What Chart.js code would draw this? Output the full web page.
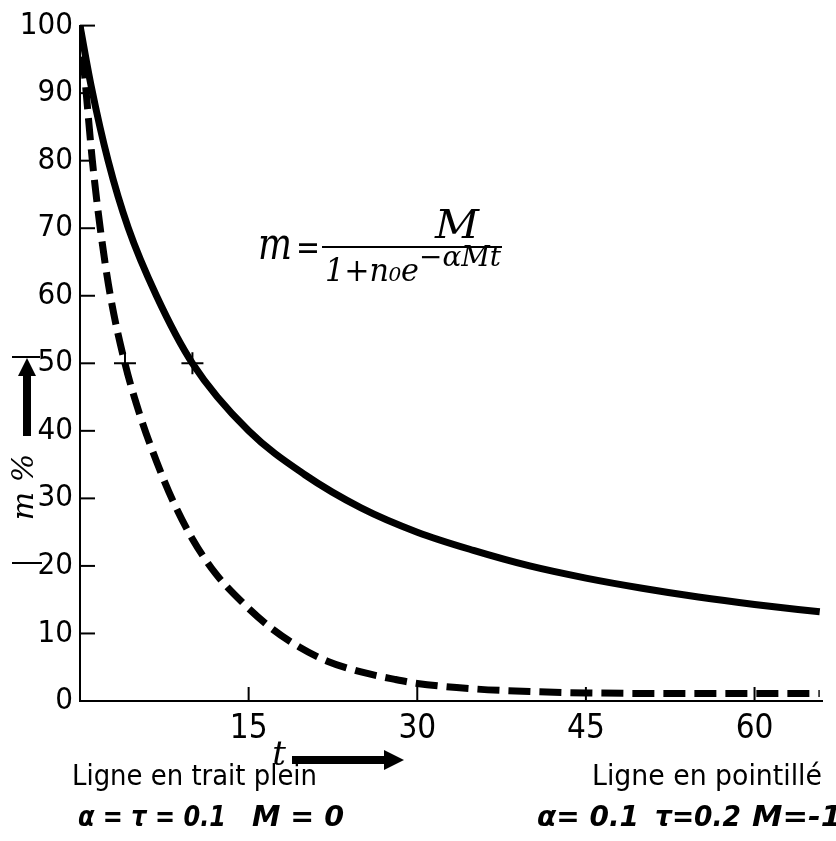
<!DOCTYPE html>
<html>
<head>
<meta charset="utf-8">
<script src="https://cdn.jsdelivr.net/npm/chart.js@4.4.0/dist/chart.umd.min.js"></script>
<style>
  html, body { margin: 0; padding: 0; background: #fff; }
</style>
</head>
<body>
<canvas id="chart" width="836" height="841"></canvas>
<script>
'use strict';
// solid line : alpha = tau = 0.1, M = 0
var tSolid = [0, 1, 2.5, 4.3, 6.8, 10, 15, 20, 25, 30, 35, 40, 45, 50, 55, 60, 65.8];
var mSolid = [100, 91, 80, 70, 60, 50, 40, 33.5, 28.6, 25, 22.3, 20, 18.2, 16.7, 15.4, 14.3, 13.2];
// dashed line : alpha = 0.1, tau = 0.2, M = -1
var tDashed = [0, 0.5, 1.1, 1.8, 2.7, 4, 5.3, 6.8, 8.3, 10, 12, 14.5, 17, 19.5, 22, 25, 28, 30, 35, 40, 45, 55, 65.8];
var mDashed = [100, 91, 80, 70, 60, 50, 42.5, 35.5, 29.5, 24, 19, 14.5, 10.8, 8, 5.9, 4.3, 3.2, 2.6, 1.8, 1.4, 1.2, 1.1, 1.1];
// half value marks (+)
var crossT = [4, 10];
var crossM = [50, 50];
// axis ticks
var xTicks = [15, 30, 45, 60];
var yTicks = [0, 10, 20, 30, 40, 50, 60, 70, 80, 90, 100];

var tickFont = '"Liberation Sans Narrow", "DejaVu Sans Condensed", sans-serif';
var textFont = '"DejaVu Sans Condensed", "Liberation Sans Narrow", sans-serif';
var mathFont = '"DejaVu Serif", "Liberation Serif", serif';

function pairs(xs, ys) {
    var out = [];
    for (var i = 0; i < xs.length; i++) {
        out.push({ x: xs[i], y: ys[i] });
    }
    return out;
}

function line(c, x1, y1, x2, y2) {
    c.beginPath();
    c.moveTo(x1, y1);
    c.lineTo(x2, y2);
    c.stroke();
}

// draw text squeezed/stretched to a given width, left edge at x
function fitText(c, text, x, y, w, font) {
    c.save();
    c.font = font;
    c.textAlign = 'left';
    c.textBaseline = 'middle';
    var s = w / c.measureText(text).width;
    c.translate(x, y);
    c.scale(s, 1);
    c.fillText(text, 0, 0);
    c.restore();
}

// extra drawing : inner ticks, axis titles, formula, notes
var decorations = {
    id: 'decorations',
    afterDraw: function (chart) {
        var c = chart.ctx;
        var xs = chart.scales.x;
        var ys = chart.scales.y;
        var left = chart.chartArea.left;
        var bottom = chart.chartArea.bottom;
        c.save();
        c.strokeStyle = '#000';
        c.fillStyle = '#000';
        c.lineWidth = 2;

        // ticks pointing into the plot
        yTicks.forEach(function (v) {
            if (v === 0) return;
            var py = ys.getPixelForValue(v);
            line(c, left, py, left + 15, py);
        });
        xTicks.forEach(function (v) {
            var px = xs.getPixelForValue(v);
            line(c, px, bottom, px, bottom - 14);
        });

        // y title : arrow + "m %"
        line(c, 12, 357, 40, 357);
        line(c, 12, 563, 42, 563);
        c.lineWidth = 8;
        line(c, 27, 436, 27, 372);
        c.beginPath();
        c.moveTo(27, 358);
        c.lineTo(18, 376);
        c.lineTo(36, 376);
        c.closePath();
        c.fill();
        c.save();
        c.translate(25, 487);
        c.rotate(-Math.PI / 2);
        c.textAlign = 'center';
        c.textBaseline = 'middle';
        c.font = 'italic 30px ' + mathFont;
        c.fillText('m %', 0, 0);
        c.restore();

        // x title : "t" + arrow
        c.font = 'italic 34px ' + mathFont;
        c.textAlign = 'center';
        c.textBaseline = 'middle';
        c.fillText('t', 279, 756);
        line(c, 292, 760, 386, 760);
        c.beginPath();
        c.moveTo(404, 760);
        c.lineTo(384, 750);
        c.lineTo(384, 770);
        c.closePath();
        c.fill();

        // formula
        c.lineWidth = 2;
        fitText(c, 'm', 258, 248, 34, 'italic 44px ' + mathFont);
        fitText(c, '=', 296, 250, 24, '34px ' + mathFont);
        line(c, 322, 247, 502, 247);
        fitText(c, 'M', 435, 228, 44, 'italic 40px ' + mathFont);
        fitText(c, '1+n\u2080e', 325, 273, 94, 'italic 32px ' + mathFont);
        fitText(c, '\u2212\u03b1Mt', 419, 259, 82, 'italic 28px ' + mathFont);

        // notes under the chart
        fitText(c, 'Ligne en trait plein', 72, 778, 245, '28px ' + textFont);
        fitText(c, '\u03b1 = \u03c4 = 0.1', 78, 819, 148, 'bold italic 28px ' + textFont);
        fitText(c, 'M = 0', 252, 819, 92, 'bold italic 28px ' + textFont);
        fitText(c, 'Ligne en pointill\u00e9', 592, 778, 230, '28px ' + textFont);
        fitText(c, '\u03b1= 0.1', 537, 819, 102, 'bold italic 28px ' + textFont);
        fitText(c, '\u03c4=0.2', 655, 819, 86, 'bold italic 28px ' + textFont);
        fitText(c, 'M=-1', 752, 819, 90, 'bold italic 28px ' + textFont);
        c.restore();
    }
};

var ctx = document.getElementById('chart').getContext('2d');
var chart = new Chart(ctx, {
    type: 'scatter',
    data: {
        datasets: [
            {
                label: 'Ligne en trait plein',
                data: pairs(tSolid, mSolid),
                showLine: true,
                borderColor: '#000',
                backgroundColor: '#000',
                borderWidth: 7,
                pointRadius: 0,
                cubicInterpolationMode: 'monotone'
            },
            {
                label: 'Ligne en pointill\u00e9',
                data: pairs(tDashed, mDashed),
                showLine: true,
                borderColor: '#000',
                backgroundColor: '#000',
                borderWidth: 7,
                borderDash: [22, 9],
                pointRadius: 0,
                cubicInterpolationMode: 'monotone'
            },
            {
                label: '+',
                data: pairs(crossT, crossM),
                showLine: false,
                pointStyle: 'cross',
                pointRadius: 11,
                borderColor: '#000',
                borderWidth: 2
            }
        ]
    },
    options: {
        responsive: false,
        animation: false,
        devicePixelRatio: 1,
        layout: { padding: { top: 24, right: 14, left: 0, bottom: 0 } },
        plugins: {
            legend: { display: false },
            tooltip: { enabled: false }
        },
        scales: {
            x: {
                type: 'linear',
                min: 0,
                max: 66,
                afterBuildTicks: function (scale) {
                    scale.ticks = xTicks.map(function (v) { return { value: v }; });
                },
                afterFit: function (scale) { scale.height = 140; },
                grid: { display: false, drawTicks: false },
                border: { display: true, color: '#000', width: 2 },
                ticks: {
                    color: '#000',
                    padding: 9,
                    maxRotation: 0,
                    font: { family: tickFont, size: 33 }
                }
            },
            y: {
                type: 'linear',
                min: 0,
                max: 100,
                afterBuildTicks: function (scale) {
                    scale.ticks = yTicks.map(function (v) { return { value: v }; });
                },
                afterFit: function (scale) { scale.width = 80; },
                grid: { display: false, drawTicks: false },
                border: { display: true, color: '#000', width: 2 },
                ticks: {
                    color: '#000',
                    padding: 7,
                    font: { family: tickFont, size: 31 }
                }
            }
        }
    },
    plugins: [decorations]
});
</script>
</body>
</html>
